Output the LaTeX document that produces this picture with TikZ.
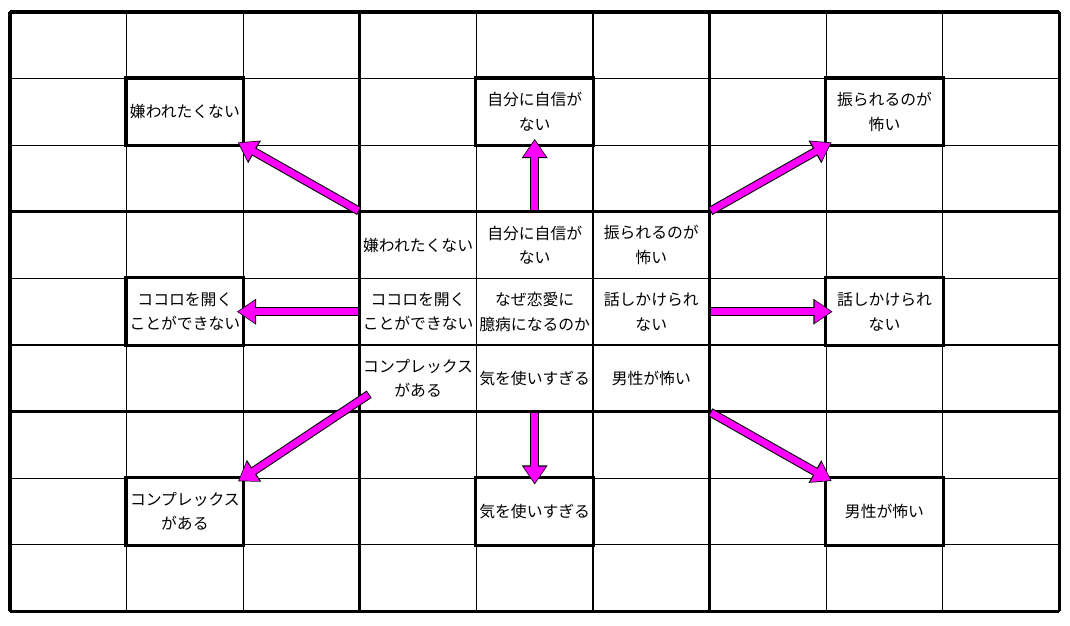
\documentclass[tikz,border=0pt]{standalone}
\usepackage{fontspec}
\setmainfont{Noto Sans CJK JP}
\usetikzlibrary{arrows.meta}
\definecolor{pink}{RGB}{255,0,255}
\tikzset{
  cell/.style={draw, line width=0.7pt, minimum width=2.332cm, minimum height=1.332cm, inner sep=0pt},
  txt/.style={align=center, font=\fontsize{9}{14}\selectfont},
  keycell/.style={draw, line width=1.8pt},
  pinkbase/.style={line width=5pt, black, -{Triangle[length=11pt,width=14pt]}, shorten <=0pt, shorten >=-4pt},
  pinktop/.style={line width=3.8pt, pink, -{Triangle[length=9.5pt,width=12.2pt]}, shorten <=0.6pt, shorten >=-3.2pt},
}
\newcommand{\pinkarrow}[2]{%
  \draw[pinkbase] (#1) -- (#2);
  \draw[pinktop] (#1) -- (#2);}
\begin{document}
\begin{tikzpicture}
\useasboundingbox (0,0) rectangle (21.4,-12.5);
% grid of cells
\foreach \r in {0,...,8}
  \foreach \c in {0,...,8}
    \node[cell] (c-\r-\c) at ({0.2+1.166+\c*2.332},{-(0.24+0.666+\r*1.332)}) {};
% block lines
\foreach \k in {0,3,6,9} {
  \draw[line width=1.8pt] ({0.2+\k*2.332},-0.24) -- ({0.2+\k*2.332},{-(0.24+9*1.332)});
  \draw[line width=1.8pt] (0.2,{-(0.24+\k*1.332)}) -- ({0.2+9*2.332},{-(0.24+\k*1.332)});
}
% key cells of the outer blocks
\foreach \r/\c in {1/1,1/4,1/7,4/1,4/7,7/1,7/4,7/7}
  \draw[keycell] (c-\r-\c.north west) rectangle (c-\r-\c.south east);
% texts
\foreach \r/\c/\t in {
  1/1/嫌われたくない, 1/4/自分に自信が\\ない, 1/7/振られるのが\\怖い,
  3/3/嫌われたくない, 3/4/自分に自信が\\ない, 3/5/振られるのが\\怖い,
  4/1/ココロを開く\\ことができない, 4/3/ココロを開く\\ことができない,
  4/4/なぜ恋愛に\\臆病になるのか, 4/5/話しかけられ\\ない, 4/7/話しかけられ\\ない,
  5/3/コンプレックス\\がある, 5/4/気を使いすぎる, 5/5/男性が怖い,
  7/1/コンプレックス\\がある, 7/4/気を使いすぎる, 7/7/男性が怖い}
  \node[txt] (t-\r-\c) at (c-\r-\c) {\t};
% arrows
\coordinate (from-ll) at ([xshift=0.2cm,yshift=0.36cm]c-5-3.south west);
\pinkarrow{c-3-3.north west}{c-1-1.south east}
\pinkarrow{c-3-4.north}{c-1-4.south}
\pinkarrow{c-3-5.north east}{c-1-7.south west}
\pinkarrow{c-4-3.west}{c-4-1.east}
\pinkarrow{c-4-5.east}{c-4-7.west}
\pinkarrow{from-ll}{c-7-1.north east}
\pinkarrow{c-5-4.south}{c-7-4.north}
\pinkarrow{c-5-5.south east}{c-7-7.north west}
\end{tikzpicture}
\end{document}
